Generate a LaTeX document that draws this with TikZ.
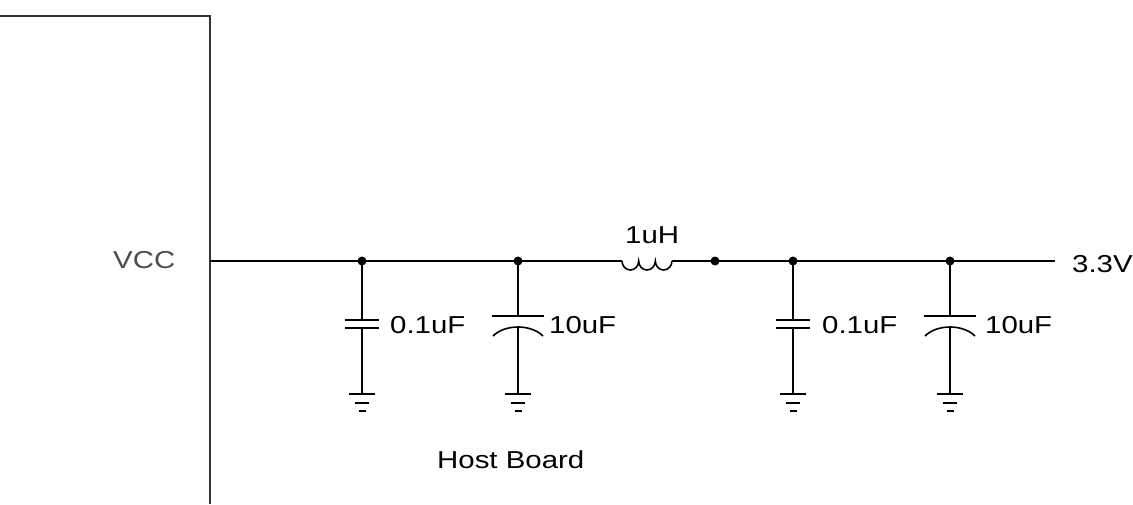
\documentclass[tikz,border=0pt]{standalone}
\usepackage{fontspec}
\setmainfont{Liberation Sans}[FakeStretch=1.2]
\begin{document}
\begin{tikzpicture}[x=1pt,y=-1pt,
  wire/.style={line width=1.6pt,black},
  boxline/.style={line width=1.8pt,black!80},
  lbl/.style={anchor=base west,inner sep=0pt,font=\fontsize{24.5}{28}\selectfont},
  jdot/.style={circle,fill=black,inner sep=0pt,minimum size=9pt}]
\useasboundingbox (0,0) rectangle (1133,504);
% module box
\coordinate (bl) at (0,16);
\coordinate (bc) at (210,16);
\coordinate (bb) at (210,504);
\draw[boxline] (bl) -- (bc) -- (bb);
\coordinate (vin) at (210,261);
\node[lbl,text=black!70] (vcc) at (113,268) {VCC};
% junctions
\coordinate (j1) at (362,261);
\coordinate (j2) at (518,261);
\coordinate (la) at (622,261);
\coordinate (lb) at (672,261);
\coordinate (j3) at (715,261);
\coordinate (j4) at (793,261);
\coordinate (j5) at (950,261);
\coordinate (vout) at (1055,261);
\draw[wire] (vin) -- (la);
\draw[wire] (la) arc[start angle=180,end angle=0,x radius=8.33,y radius=9]
  arc[start angle=180,end angle=0,x radius=8.33,y radius=9]
  arc[start angle=180,end angle=0,x radius=8.33,y radius=9];
\draw[wire] (lb) -- (vout);
\node[lbl] (lL) at (625,243) {1uH};
\node[lbl] (lout) at (1072,272) {3.3V};
\foreach \j in {j1,j2,j3,j4,j5} \node[jdot] at (\j) {};
% straight capacitors
\foreach \x/\n in {362/c1,793/c3}{
  \coordinate (\n t) at (\x,320);
  \coordinate (\n b) at (\x,328);
  \coordinate (\n g) at (\x,394);
  \draw[wire] (\x,261) -- (\n t);
  \draw[wire] (\x-17,320) -- (\x+17,320);
  \draw[wire] (\x-17,328) -- (\x+17,328);
  \draw[wire] (\n b) -- (\n g);
}
% polarised capacitors
\foreach \x/\n in {518/c2,950/c4}{
  \coordinate (\n t) at (\x,316);
  \coordinate (\n b) at (\x,327);
  \coordinate (\n g) at (\x,394);
  \draw[wire] (\x,261) -- (\n t);
  \draw[wire] (\x-26,316) -- (\x+26,316);
  \draw[wire] (\x-25,336) .. controls (\x-13,324) and (\x+13,324) .. (\x+25,336);
  \draw[wire] (\n b) -- (\n g);
}
% grounds
\foreach \x in {362,518,793,950}{
  \draw[wire] (\x-13,394) -- (\x+13,394);
  \draw[wire] (\x-7,403) -- (\x+7,403);
  \draw[wire] (\x-3.5,411) -- (\x+3.5,411);
}
\node[lbl] (t1) at (390,333) {0.1uF};
\node[lbl] (t2) at (549,333) {10uF};
\node[lbl] (t3) at (822,333) {0.1uF};
\node[lbl] (t4) at (985,333) {10uF};
\node[lbl] (host) at (437,468) {Host Board};
\end{tikzpicture}
\end{document}
